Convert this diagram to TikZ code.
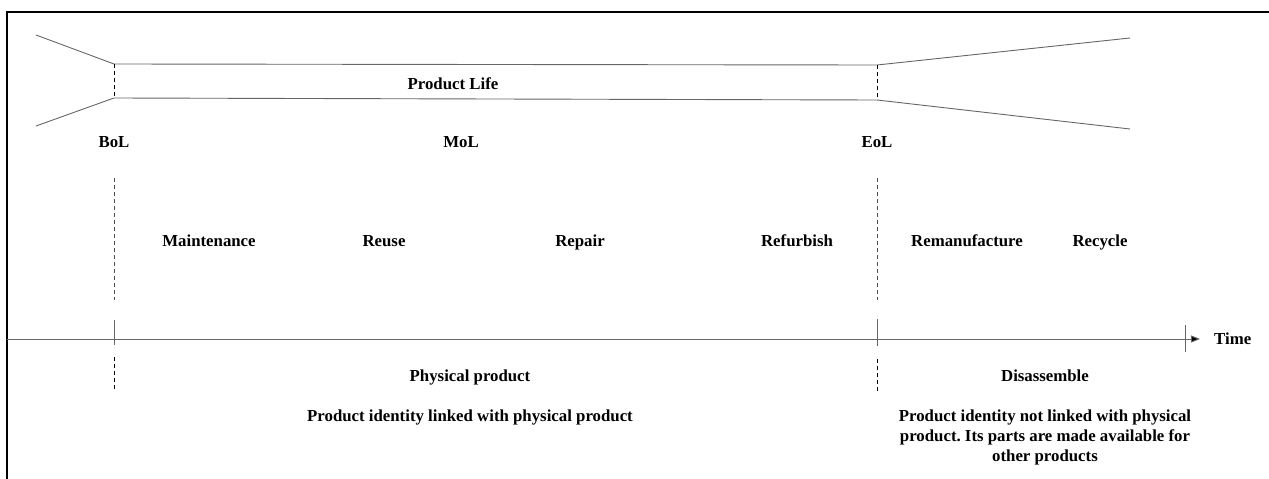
\documentclass[tikz,border=0pt]{standalone}
\usepackage{fontspec}
\setmainfont{Liberation Serif}
\usetikzlibrary{arrows.meta}
\frenchspacing
\begin{document}
\begin{tikzpicture}[x=1pt,y=-1pt,
  lbl/.style={font=\fontsize{16.8}{20}\selectfont\bfseries, inner sep=0pt, anchor=base},
  thin line/.style={draw=black!60, line width=0.9pt},
  dash line/.style={draw=black!70, line width=0.9pt, dash pattern=on 4pt off 3pt},
  dash dark/.style={draw=black, line width=1pt, dash pattern=on 4pt off 3pt},
  frame/.style={draw=black, line width=1.6pt}]
\useasboundingbox (0,0) rectangle (1269,479);
% frame (top and left)
\coordinate (fTR) at (1269,12);
\coordinate (fTL) at (7,12);
\coordinate (fBL) at (7,479);
\draw[frame] (fTR) -- (fTL) -- (fBL);
% product life tube
\coordinate (lA) at (36,35);
\coordinate (lB) at (36,126);
\coordinate (bT) at (114,64);
\coordinate (bB) at (114,98);
\coordinate (eT) at (877,65);
\coordinate (eB) at (877,100);
\coordinate (rA) at (1130,38);
\coordinate (rB) at (1130,129);
\draw[thin line] (lA) -- (bT) -- (eT) -- (rA);
\draw[thin line] (lB) -- (bB) -- (eB) -- (rB);
\draw[dash dark] (bT) -- (bB);
\draw[dash dark] (eT) -- (eB);
\node[lbl] (pl) at (453,89) {Product Life};
% phase labels
\node[lbl] (bol) at (114,147) {BoL};
\node[lbl] (mol) at (461,147) {MoL};
\node[lbl] (eol) at (877,147) {EoL};
% upper dashed separators
\coordinate (d1a) at (114,178);
\coordinate (d1b) at (114,300);
\coordinate (d2a) at (877,178);
\coordinate (d2b) at (877,300);
\draw[dash line] (d1a) -- (d1b);
\draw[dash line] (d2a) -- (d2b);
% activities
\node[lbl] (mnt) at (209,246) {Maintenance};
\node[lbl] (reu) at (384,246) {Reuse};
\node[lbl] (rep) at (580,246) {Repair};
\node[lbl] (ref) at (797,246) {Refurbish};
\node[lbl] (rem) at (967,246) {Remanufacture};
\node[lbl] (rec) at (1100,246) {Recycle};
% timeline
\coordinate (t0) at (7,339);
\coordinate (t1) at (1200,339);
\draw[thin line, -{Triangle[length=9pt,width=7pt,fill=black]}] (t0) -- (t1);
\coordinate (k1a) at (114,320);
\coordinate (k1b) at (114,345);
\coordinate (k2a) at (877,319);
\coordinate (k2b) at (877,346);
\coordinate (k3a) at (1185,325);
\coordinate (k3b) at (1185,352);
\draw[thin line] (k1a) -- (k1b);
\draw[thin line] (k2a) -- (k2b);
\draw[thin line] (k3a) -- (k3b);
\node[lbl, anchor=base west] (time) at (1214,344) {Time};
% lower dashed separators
\coordinate (l1a) at (114,357);
\coordinate (l1b) at (114,391);
\coordinate (l2a) at (877,359);
\coordinate (l2b) at (877,393);
\draw[dash dark] (l1a) -- (l1b);
\draw[dash dark] (l2a) -- (l2b);
% lower texts
\node[lbl] (phys) at (470,381) {Physical product};
\node[lbl] (pid) at (470,421) {Product identity linked with physical product};
\node[lbl] (dis) at (1045,381) {Disassemble};
\node[lbl, align=center] (pnid) at (1045,461) {Product identity not linked with physical\\product. Its parts are made available for\\other products};
\end{tikzpicture}
\end{document}
